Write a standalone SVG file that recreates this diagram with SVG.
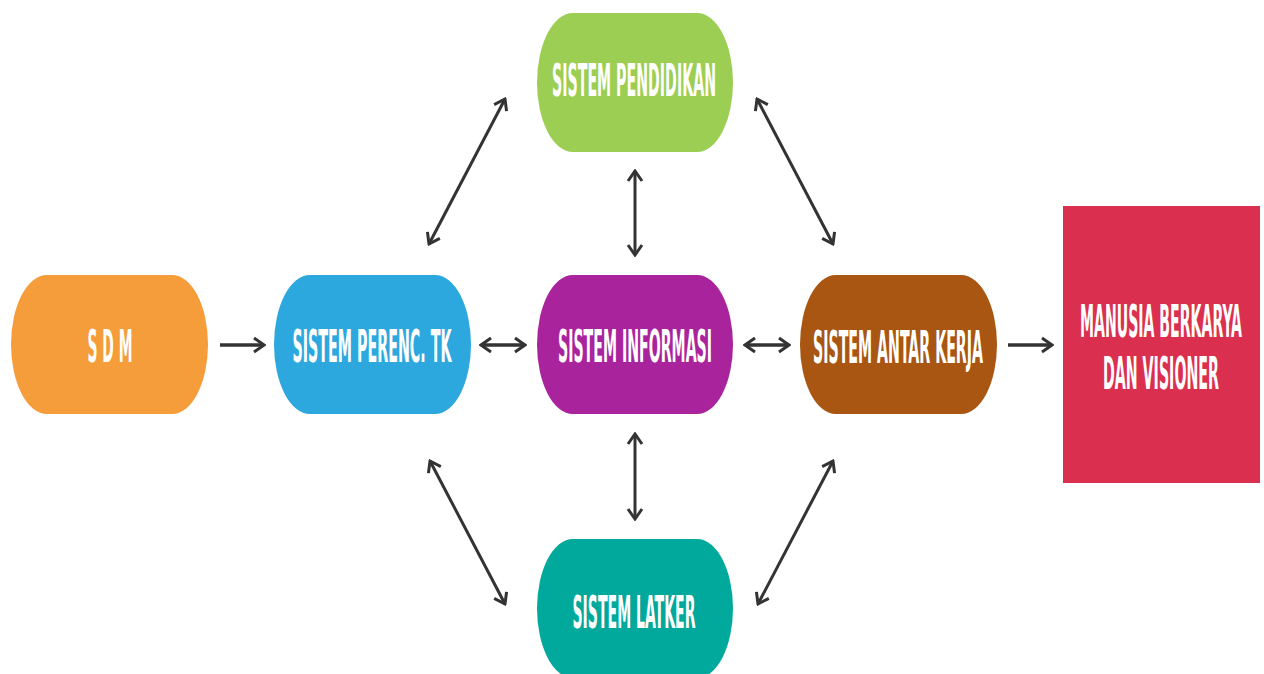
<svg xmlns="http://www.w3.org/2000/svg" width="1264" height="674" viewBox="0 0 1264 674">
<style>
.lbl{font-family:"Liberation Sans Narrow","DejaVu Sans Condensed","Liberation Sans",sans-serif;font-weight:bold;font-size:16px;fill:#fff;text-anchor:middle}
.con{stroke:#333;stroke-width:3;fill:none}
.h{stroke-width:3.5}
</style>
<defs>
<marker id="ah" viewBox="0 0 14 18" refX="12" refY="9" markerWidth="14" markerHeight="18" markerUnits="userSpaceOnUse" orient="auto-start-reverse">
<path d="M2,2 L12,9 L2,16" fill="none" stroke="#333" stroke-width="3" stroke-linejoin="miter"/>
</marker>
</defs>
<rect width="1264" height="674" fill="#fff"/>
<g id="connectors">
<line class="con h" x1="220" y1="345" x2="264" y2="345" marker-end="url(#ah)"/>
<line class="con h" x1="481" y1="345" x2="525" y2="345" marker-start="url(#ah)" marker-end="url(#ah)"/>
<line class="con h" x1="745" y1="345" x2="789" y2="345" marker-start="url(#ah)" marker-end="url(#ah)"/>
<line class="con h" x1="1008" y1="345" x2="1052" y2="345" marker-end="url(#ah)"/>
<line class="con" x1="635" y1="171" x2="635" y2="255" marker-start="url(#ah)" marker-end="url(#ah)"/>
<line class="con" x1="635" y1="434" x2="635" y2="519" marker-start="url(#ah)" marker-end="url(#ah)"/>
<line class="con" x1="429" y1="244" x2="505" y2="99" marker-start="url(#ah)" marker-end="url(#ah)"/>
<line class="con" x1="757" y1="99" x2="833" y2="244" marker-start="url(#ah)" marker-end="url(#ah)"/>
<line class="con" x1="430" y1="461" x2="505" y2="604" marker-start="url(#ah)" marker-end="url(#ah)"/>
<line class="con" x1="833" y1="461" x2="758" y2="604" marker-start="url(#ah)" marker-end="url(#ah)"/>
</g>
<g id="sdm">
<rect x="11" y="275" width="197" height="139" rx="36" ry="69.5" fill="#F49D3A"/>
<text class="lbl" transform="translate(110,362) scale(1,2.74)" textLength="45" lengthAdjust="spacingAndGlyphs">S D M</text>
</g>
<g id="perenc">
<rect x="274" y="275" width="197" height="139" rx="36" ry="69.5" fill="#2DA8DF"/>
<text class="lbl" transform="translate(372,362) scale(1,2.74)" textLength="159" lengthAdjust="spacingAndGlyphs">SISTEM PERENC. TK</text>
</g>
<g id="informasi">
<rect x="537" y="275" width="196" height="139" rx="36" ry="69.5" fill="#A9239D"/>
<text class="lbl" transform="translate(635,362) scale(1,2.74)" textLength="154" lengthAdjust="spacingAndGlyphs">SISTEM INFORMASI</text>
</g>
<g id="antarkerja">
<rect x="800" y="275" width="197" height="139" rx="36" ry="69.5" fill="#A85611"/>
<text class="lbl" transform="translate(898,363) scale(1,2.74)" textLength="170" lengthAdjust="spacingAndGlyphs">SISTEM ANTAR KERJA</text>
</g>
<g id="pendidikan">
<rect x="537" y="13" width="196" height="139" rx="36" ry="69.5" fill="#9BCE52"/>
<text class="lbl" transform="translate(634,96) scale(1,2.74)" textLength="164" lengthAdjust="spacingAndGlyphs">SISTEM PENDIDIKAN</text>
</g>
<g id="latker">
<rect x="537" y="539" width="196" height="139" rx="36" ry="69.5" fill="#00A99C"/>
<text class="lbl" transform="translate(634,628) scale(1,2.74)" textLength="123" lengthAdjust="spacingAndGlyphs">SISTEM LATKER</text>
</g>
<g id="manusia">
<rect x="1063" y="206" width="197" height="277" fill="#DB2F4F"/>
<text class="lbl" transform="translate(1161,337) scale(1,2.74)" textLength="162" lengthAdjust="spacingAndGlyphs">MANUSIA BERKARYA</text>
<text class="lbl" transform="translate(1161,389) scale(1,2.74)" textLength="116" lengthAdjust="spacingAndGlyphs">DAN VISIONER</text>
</g>
</svg>
